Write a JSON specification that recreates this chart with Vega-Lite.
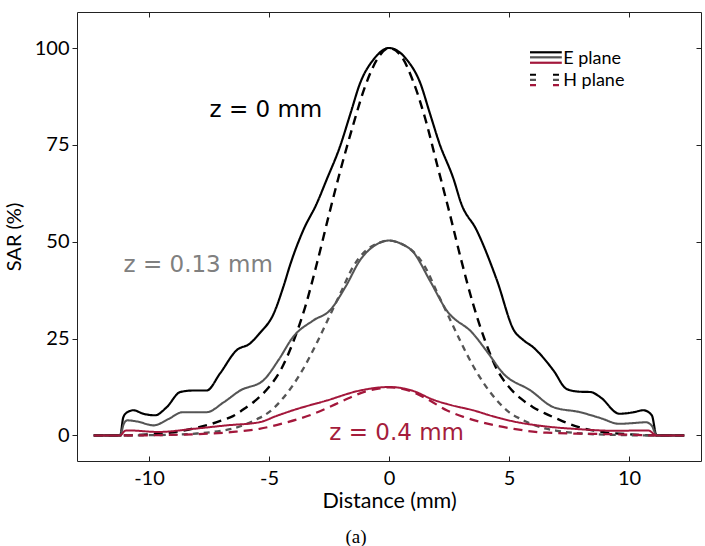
{
  "$schema": "https://vega.github.io/schema/vega-lite/v6.json",
  "width": 624,
  "height": 449,
  "autosize": "none",
  "padding": {"left": 77, "top": 12, "right": 4, "bottom": 85},
  "background": "white",
  "config": {"view": {"stroke": "#222", "strokeWidth": 1}, "font": "Lato"},
  "title": {"text": "(a)", "orient": "bottom", "font": "Liberation Serif", "fontSize": 19, "fontWeight": "normal", "color": "#000", "offset": 16, "dx": -33},
  "datasets": {
    "one": [{}],
    "curves": [
      {"s":"H0","x":-12.3,"y":0},{"s":"H0","x":-11.2,"y":0},{"s":"H0","x":-10,"y":0.3},{"s":"H0","x":-9,"y":0.8},{"s":"H0","x":-8,"y":2},{"s":"H0","x":-7.5,"y":2.8},{"s":"H0","x":-7,"y":3.8},{"s":"H0","x":-6.5,"y":5},{"s":"H0","x":-6,"y":7},{"s":"H0","x":-5.4,"y":9.9},{"s":"H0","x":-5,"y":12.5},{"s":"H0","x":-4.5,"y":17},{"s":"H0","x":-4,"y":24},{"s":"H0","x":-3.5,"y":33},{"s":"H0","x":-3,"y":44.5},{"s":"H0","x":-2.5,"y":57},{"s":"H0","x":-2,"y":69},{"s":"H0","x":-1.5,"y":80},{"s":"H0","x":-1,"y":90},{"s":"H0","x":-0.5,"y":97},{"s":"H0","x":0,"y":100},{"s":"H0","x":0.5,"y":98},{"s":"H0","x":1,"y":91.5},{"s":"H0","x":1.5,"y":82},{"s":"H0","x":2,"y":70},{"s":"H0","x":2.5,"y":58},{"s":"H0","x":3,"y":45.5},{"s":"H0","x":3.5,"y":34},{"s":"H0","x":4,"y":24.5},{"s":"H0","x":4.5,"y":17},{"s":"H0","x":5,"y":12.5},{"s":"H0","x":5.5,"y":9.5},{"s":"H0","x":6,"y":7.3},{"s":"H0","x":6.5,"y":5.7},{"s":"H0","x":7,"y":4.3},{"s":"H0","x":7.5,"y":3},{"s":"H0","x":8,"y":2},{"s":"H0","x":9,"y":0.8},{"s":"H0","x":10,"y":0.3},{"s":"H0","x":11.15,"y":0},{"s":"H0","x":12.3,"y":0},

      {"s":"H013","x":-12.3,"y":0},{"s":"H013","x":-11.2,"y":0},{"s":"H013","x":-9,"y":0.2},{"s":"H013","x":-8,"y":0.5},{"s":"H013","x":-7,"y":1.2},{"s":"H013","x":-6.5,"y":1.8},{"s":"H013","x":-6,"y":2.8},{"s":"H013","x":-5.5,"y":4.2},{"s":"H013","x":-5,"y":6},{"s":"H013","x":-4.5,"y":9},{"s":"H013","x":-4,"y":13},{"s":"H013","x":-3.5,"y":18},{"s":"H013","x":-3,"y":24},{"s":"H013","x":-2.5,"y":30.5},{"s":"H013","x":-2,"y":37},{"s":"H013","x":-1.5,"y":43.5},{"s":"H013","x":-1,"y":47.5},{"s":"H013","x":-0.5,"y":49.5},{"s":"H013","x":0,"y":50.3},{"s":"H013","x":0.5,"y":49.5},{"s":"H013","x":1,"y":47.5},{"s":"H013","x":1.5,"y":43.5},{"s":"H013","x":2,"y":37},{"s":"H013","x":2.5,"y":30.5},{"s":"H013","x":3,"y":24},{"s":"H013","x":3.5,"y":18},{"s":"H013","x":4,"y":13},{"s":"H013","x":4.5,"y":9},{"s":"H013","x":5,"y":6},{"s":"H013","x":5.5,"y":4.2},{"s":"H013","x":6,"y":2.8},{"s":"H013","x":6.5,"y":1.8},{"s":"H013","x":7,"y":1.2},{"s":"H013","x":8,"y":0.5},{"s":"H013","x":9,"y":0.2},{"s":"H013","x":11.15,"y":0},{"s":"H013","x":12.3,"y":0},

      {"s":"H04","x":-12.3,"y":0},{"s":"H04","x":-11.2,"y":0},{"s":"H04","x":-10.9,"y":0},{"s":"H04","x":-8.15,"y":0.3},{"s":"H04","x":-6.5,"y":0.9},{"s":"H04","x":-5.4,"y":1.7},{"s":"H04","x":-4.3,"y":3.3},{"s":"H04","x":-3.3,"y":5.2},{"s":"H04","x":-2.6,"y":7},{"s":"H04","x":-1.9,"y":9},{"s":"H04","x":-1,"y":11.3},{"s":"H04","x":-0.5,"y":12},{"s":"H04","x":0,"y":12.4},{"s":"H04","x":0.5,"y":12.1},{"s":"H04","x":1,"y":11.2},{"s":"H04","x":1.7,"y":9},{"s":"H04","x":2.4,"y":6.5},{"s":"H04","x":3.1,"y":4.8},{"s":"H04","x":3.8,"y":3.5},{"s":"H04","x":5.2,"y":1.7},{"s":"H04","x":6.57,"y":0.7},{"s":"H04","x":9.4,"y":0.3},{"s":"H04","x":11.15,"y":0},{"s":"H04","x":12.3,"y":0},

      {"s":"E0","x":-12.3,"y":0},{"s":"E0","x":-11.2,"y":0},{"s":"E0","x":-11.07,"y":4.7},{"s":"E0","x":-10.9,"y":6},{"s":"E0","x":-10.65,"y":6.5},{"s":"E0","x":-10.24,"y":5.6},{"s":"E0","x":-9.75,"y":5.2},{"s":"E0","x":-9.26,"y":7.3},{"s":"E0","x":-8.7,"y":11.2},{"s":"E0","x":-8.15,"y":11.6},{"s":"E0","x":-7.6,"y":11.6},{"s":"E0","x":-7.04,"y":16},{"s":"E0","x":-6.35,"y":22},{"s":"E0","x":-5.8,"y":23.7},{"s":"E0","x":-5.4,"y":26.3},{"s":"E0","x":-4.8,"y":31.5},{"s":"E0","x":-4.4,"y":38.4},{"s":"E0","x":-4.1,"y":44.4},{"s":"E0","x":-3.57,"y":53},{"s":"E0","x":-3,"y":60},{"s":"E0","x":-2.6,"y":66},{"s":"E0","x":-2.04,"y":74.6},{"s":"E0","x":-1.6,"y":83.2},{"s":"E0","x":-1.2,"y":91},{"s":"E0","x":-0.65,"y":97},{"s":"E0","x":0,"y":100},{"s":"E0","x":0.74,"y":97},{"s":"E0","x":1.3,"y":91},{"s":"E0","x":1.7,"y":83.2},{"s":"E0","x":2.1,"y":75.4},{"s":"E0","x":2.7,"y":66},{"s":"E0","x":3,"y":60},{"s":"E0","x":3.65,"y":53},{"s":"E0","x":4.5,"y":40},{"s":"E0","x":5.2,"y":27.2},{"s":"E0","x":5.6,"y":24.6},{"s":"E0","x":6,"y":22.8},{"s":"E0","x":6.85,"y":16.8},{"s":"E0","x":7.4,"y":12},{"s":"E0","x":7.9,"y":11.3},{"s":"E0","x":8.4,"y":11.2},{"s":"E0","x":8.8,"y":9.9},{"s":"E0","x":9.6,"y":5.6},{"s":"E0","x":10.2,"y":6},{"s":"E0","x":10.6,"y":6.5},{"s":"E0","x":10.95,"y":5.2},{"s":"E0","x":11.15,"y":0},{"s":"E0","x":12.3,"y":0},

      {"s":"E013","x":-12.3,"y":0},{"s":"E013","x":-11.2,"y":0},{"s":"E013","x":-11.05,"y":3},{"s":"E013","x":-10.9,"y":3.9},{"s":"E013","x":-10.5,"y":3.6},{"s":"E013","x":-9.8,"y":2.6},{"s":"E013","x":-9.2,"y":4.2},{"s":"E013","x":-8.6,"y":6},{"s":"E013","x":-7.6,"y":6},{"s":"E013","x":-6.9,"y":8.5},{"s":"E013","x":-6.2,"y":11.6},{"s":"E013","x":-5.24,"y":14.2},{"s":"E013","x":-4.6,"y":19.5},{"s":"E013","x":-4,"y":25.4},{"s":"E013","x":-3.15,"y":29.7},{"s":"E013","x":-2.46,"y":32.3},{"s":"E013","x":-1.8,"y":38.5},{"s":"E013","x":-1.2,"y":45.3},{"s":"E013","x":-0.6,"y":49},{"s":"E013","x":0,"y":50.3},{"s":"E013","x":0.5,"y":49.5},{"s":"E013","x":1,"y":47.4},{"s":"E013","x":1.7,"y":40},{"s":"E013","x":2.4,"y":32.3},{"s":"E013","x":3.5,"y":26.3},{"s":"E013","x":4.1,"y":21.5},{"s":"E013","x":4.76,"y":16},{"s":"E013","x":5.9,"y":11.6},{"s":"E013","x":6.85,"y":7.3},{"s":"E013","x":7.96,"y":6},{"s":"E013","x":8.8,"y":4.5},{"s":"E013","x":9.6,"y":3},{"s":"E013","x":10.2,"y":3.2},{"s":"E013","x":10.7,"y":3.4},{"s":"E013","x":10.95,"y":2.5},{"s":"E013","x":11.15,"y":0},{"s":"E013","x":12.3,"y":0},

      {"s":"E04","x":-12.3,"y":0},{"s":"E04","x":-11.2,"y":0},{"s":"E04","x":-11,"y":1.2},{"s":"E04","x":-10.9,"y":1.3},{"s":"E04","x":-9.6,"y":0.9},{"s":"E04","x":-8.15,"y":1.7},{"s":"E04","x":-6.76,"y":2.6},{"s":"E04","x":-5.4,"y":3.4},{"s":"E04","x":-4.7,"y":5},{"s":"E04","x":-4,"y":6.5},{"s":"E04","x":-2.6,"y":9},{"s":"E04","x":-1.2,"y":11.6},{"s":"E04","x":0,"y":12.5},{"s":"E04","x":1,"y":11.5},{"s":"E04","x":1.85,"y":9.2},{"s":"E04","x":2.6,"y":7.8},{"s":"E04","x":3.5,"y":6.5},{"s":"E04","x":4.3,"y":5},{"s":"E04","x":5.2,"y":3.6},{"s":"E04","x":6.57,"y":2.3},{"s":"E04","x":7.96,"y":1.6},{"s":"E04","x":9.4,"y":1.2},{"s":"E04","x":10.8,"y":1.3},{"s":"E04","x":11.15,"y":0},{"s":"E04","x":12.3,"y":0}
    ]
  },
  "layer": [
    {
      "data": {"name": "curves"},
      "mark": {"type": "line", "interpolate": "monotone"},
      "encoding": {
        "x": {"field": "x", "type": "quantitative",
              "scale": {"domain": [-13, 13], "nice": false, "zero": false},
              "axis": {"orient": "bottom", "values": [-10, -5, 0, 5, 10], "tickSize": -5, "labelPadding": 12, "tickColor": "#222", "domain": false, "grid": false,
                       "labelExpr": "datum.value < 0 ? '-' + abs(datum.value) : '' + datum.value",
                       "labelFont": "Lato", "labelFontSize": 20, "labelColor": "#000", "title": "Distance (mm)", "titleFont": "Lato", "titleFontSize": 21.5, "titleFontWeight": "normal", "titleColor": "#000", "titlePadding": 2}},
        "y": {"field": "y", "type": "quantitative",
              "scale": {"domain": [-6.6, 109.3], "nice": false, "zero": false},
              "axis": {"orient": "left", "values": [0, 25, 50, 75, 100], "tickSize": 5, "labelPadding": 3, "tickColor": "#222", "domain": false, "grid": false,
                       "labelFont": "Lato", "labelFontSize": 20, "labelColor": "#000", "title": "SAR (%)", "titleFont": "Lato", "titleFontSize": 20, "titleFontWeight": "normal", "titleColor": "#000", "titlePadding": 10}},
        "color": {"field": "s", "type": "nominal", "legend": null,
                  "scale": {"domain": ["H0", "H013", "H04", "E0", "E013", "E04"], "range": ["#000000", "#555555", "#a3173b", "#000000", "#555555", "#a3173b"]}},
        "strokeDash": {"field": "s", "type": "nominal", "legend": null,
                  "scale": {"domain": ["H0", "H013", "H04", "E0", "E013", "E04"], "range": [[9, 6], [6, 5], [9, 6], [1, 0], [1, 0], [1, 0]]}},
        "strokeWidth": {"field": "s", "type": "nominal", "legend": null,
                  "scale": {"domain": ["H0", "H013", "H04", "E0", "E013", "E04"], "range": [2.4, 2, 2.6, 2.6, 2, 2.8]}},
        "order": {"field": "s", "sort": "descending"}
      }
    },
    {
      "data": {"name": "curves"},
      "mark": {"type": "line", "opacity": 0},
      "encoding": {
        "x": {"field": "x", "type": "quantitative",
              "axis": {"orient": "top", "values": [-10, -5, 0, 5, 10], "tickSize": -5, "labels": false, "domain": false, "grid": false, "title": null, "tickColor": "#222"}},
        "y": {"field": "y", "type": "quantitative",
              "axis": {"orient": "right", "values": [0, 25, 50, 75, 100], "tickSize": -5, "labels": false, "domain": false, "grid": false, "title": null, "tickColor": "#222"}}
      }
    },
    {
      "data": {"name": "one"},
      "mark": {"type": "text", "text": "z = 0 mm", "font": "DejaVu Sans", "fontSize": 23, "color": "#000", "align": "center", "baseline": "alphabetic"},
      "encoding": {"x": {"datum": -5.13, "type": "quantitative", "axis": null}, "y": {"datum": 82.2, "type": "quantitative", "axis": null}}
    },
    {
      "data": {"name": "one"},
      "mark": {"type": "text", "text": "z = 0.13 mm", "font": "DejaVu Sans", "fontSize": 23, "color": "#808080", "align": "center", "baseline": "alphabetic"},
      "encoding": {"x": {"datum": -7.95, "type": "quantitative", "axis": null}, "y": {"datum": 42.2, "type": "quantitative", "axis": null}}
    },
    {
      "data": {"name": "one"},
      "mark": {"type": "text", "text": "z = 0.4 mm", "font": "DejaVu Sans", "fontSize": 23, "color": "#a51d3c", "align": "center", "baseline": "alphabetic"},
      "encoding": {"x": {"datum": 0.32, "type": "quantitative", "axis": null}, "y": {"datum": -1.3, "type": "quantitative", "axis": null}}
    },
    {
      "data": {"name": "one"},
      "mark": {"type": "rule", "color": "#000", "strokeWidth": 2.2},
      "encoding": {"x": {"datum": 5.875, "type": "quantitative", "axis": null}, "x2": {"datum": 7.2}, "y": {"datum": 98.9, "type": "quantitative", "axis": null}}
    },
    {
      "data": {"name": "one"},
      "mark": {"type": "rule", "color": "#555555", "strokeWidth": 2.2},
      "encoding": {"x": {"datum": 5.875, "type": "quantitative", "axis": null}, "x2": {"datum": 7.2}, "y": {"datum": 97.6, "type": "quantitative", "axis": null}}
    },
    {
      "data": {"name": "one"},
      "mark": {"type": "rule", "color": "#a3173b", "strokeWidth": 2.2},
      "encoding": {"x": {"datum": 5.875, "type": "quantitative", "axis": null}, "x2": {"datum": 7.2}, "y": {"datum": 96.2, "type": "quantitative", "axis": null}}
    },
    {
      "data": {"name": "one"},
      "mark": {"type": "rule", "color": "#000", "strokeWidth": 2.2, "strokeDash": [6, 17]},
      "encoding": {"x": {"datum": 5.875, "type": "quantitative", "axis": null}, "x2": {"datum": 7.2}, "y": {"datum": 93.1, "type": "quantitative", "axis": null}}
    },
    {
      "data": {"name": "one"},
      "mark": {"type": "rule", "color": "#555555", "strokeWidth": 2.2, "strokeDash": [6, 17]},
      "encoding": {"x": {"datum": 5.875, "type": "quantitative", "axis": null}, "x2": {"datum": 7.2}, "y": {"datum": 91.8, "type": "quantitative", "axis": null}}
    },
    {
      "data": {"name": "one"},
      "mark": {"type": "rule", "color": "#a3173b", "strokeWidth": 2.2, "strokeDash": [6, 17]},
      "encoding": {"x": {"datum": 5.875, "type": "quantitative", "axis": null}, "x2": {"datum": 7.2}, "y": {"datum": 90.4, "type": "quantitative", "axis": null}}
    },
    {
      "data": {"name": "one"},
      "mark": {"type": "text", "text": "E plane", "font": "Lato", "fontSize": 18, "color": "#000", "align": "left", "baseline": "alphabetic"},
      "encoding": {"x": {"datum": 7.26, "type": "quantitative", "axis": null}, "y": {"datum": 95.9, "type": "quantitative", "axis": null}}
    },
    {
      "data": {"name": "one"},
      "mark": {"type": "text", "text": "H plane", "font": "Lato", "fontSize": 18, "color": "#000", "align": "left", "baseline": "alphabetic"},
      "encoding": {"x": {"datum": 7.26, "type": "quantitative", "axis": null}, "y": {"datum": 90.3, "type": "quantitative", "axis": null}}
    }
  ],
  "resolve": {"axis": {"x": "independent", "y": "independent"}}
}
